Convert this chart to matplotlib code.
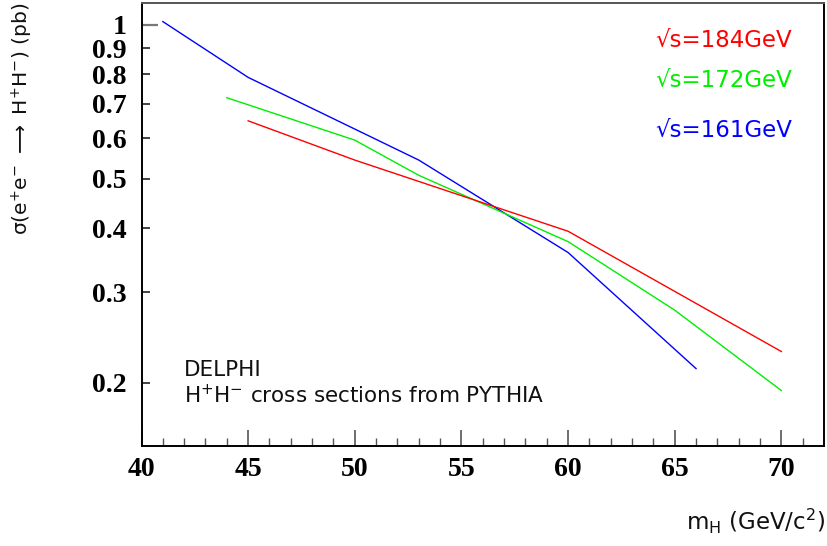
import matplotlib
matplotlib.use("Agg")
import matplotlib.pyplot as plt

# ---- data ----
mass_161 = [41, 45, 53, 60, 66]
xsec_161 = [1.014, 0.789, 0.544, 0.359, 0.213]

mass_172 = [44, 50, 53, 60, 65, 70]
xsec_172 = [0.720, 0.595, 0.508, 0.377, 0.277, 0.193]

mass_184 = [45, 50, 60, 70]
xsec_184 = [0.649, 0.544, 0.395, 0.230]

energies = ["184", "172", "161"]
colors = {"184": "#ff0000", "172": "#00ee00", "161": "#0000ff"}

x_major = [40, 45, 50, 55, 60, 65, 70]
x_minor = list(range(41, 72))
y_major = [1.0]
y_minor = [0.2, 0.3, 0.4, 0.5, 0.6, 0.7, 0.8, 0.9]

plt.rcParams["mathtext.fontset"] = "dejavusans"

fig = plt.figure(figsize=(8.28, 5.46), dpi=100)
ax = fig.add_axes([0.1709, 0.1837, 0.8243, 0.8103])

ax.plot(mass_161, xsec_161, color=colors["161"], lw=1.0)
ax.plot(mass_172, xsec_172, color=colors["172"], lw=1.0)
ax.plot(mass_184, xsec_184, color=colors["184"], lw=1.0)

ax.set_yscale("log")
ax.set_xlim(40, 72)
ax.set_ylim(0.1506, 1.101)

ax.set_xticks(x_major, labels=[str(v) for v in x_major])
ax.set_xticks(x_minor, minor=True)
ax.set_yticks(y_major, labels=["1"])
ax.set_yticks(y_minor, labels=["%g" % v for v in y_minor], minor=True)

ax.tick_params(axis="x", which="major", direction="in", length=11.5, width=1.2,
               color="#555555", pad=8)
ax.tick_params(axis="x", which="minor", direction="in", length=5.8, width=1.0,
               color="#555555")
ax.tick_params(axis="y", which="major", direction="in", length=11.5, width=1.6,
               color="#777777", pad=11)
ax.tick_params(axis="y", which="minor", direction="in", length=5.8, width=1.2,
               color="#222222", pad=11)
ax.tick_params(top=False, right=False, which="both")

for lab in ax.get_xticklabels() + ax.get_yticklabels() + ax.get_yticklabels(minor=True):
    lab.set_fontfamily("Liberation Serif")
    lab.set_fontweight("bold")
    lab.set_fontsize(20)

for side in ["left", "bottom", "right"]:
    ax.spines[side].set_linewidth(1.4)
    ax.spines[side].set_color("black")
ax.spines["top"].set_linewidth(1.4)
ax.spines["top"].set_color("#555555")

sans = dict(family="DejaVu Sans", weight="normal", color="#111111")

# energy labels
label_y = {"184": 40.5, "172": 80, "161": 130}
for e in energies:
    fig.text(655 / 828, 1 - label_y[e] / 546, "\u221as=" + e + "GeV",
             color=colors[e], fontsize=16.5, family="DejaVu Sans", weight="normal",
             ha="left", va="center")

fig.text(184 / 828, 1 - 370 / 546, "DELPHI", fontsize=15.5, ha="left", va="center", **sans)
fig.text(184 / 828, 1 - 395 / 546, r"H$^{+}$H$^{-}$ cross sections from PYTHIA",
         fontsize=15.5, ha="left", va="center", **sans)

fig.text(22 / 828, 1 - 119 / 546,
         r"$\mathrm{\sigma}$(e$^{+}$e$^{-}$ $\longrightarrow$ H$^{+}$H$^{-}$) (pb)",
         rotation=90, fontsize=14.6, ha="center", va="center", **sans)

fig.text(825 / 828, 1 - 521 / 546, r"m$_{\mathrm{H}}$ (GeV/c$^{\mathrm{2}}$)",
         fontsize=16.5, ha="right", va="center", **sans)

fig.savefig("out.png", dpi=100)
